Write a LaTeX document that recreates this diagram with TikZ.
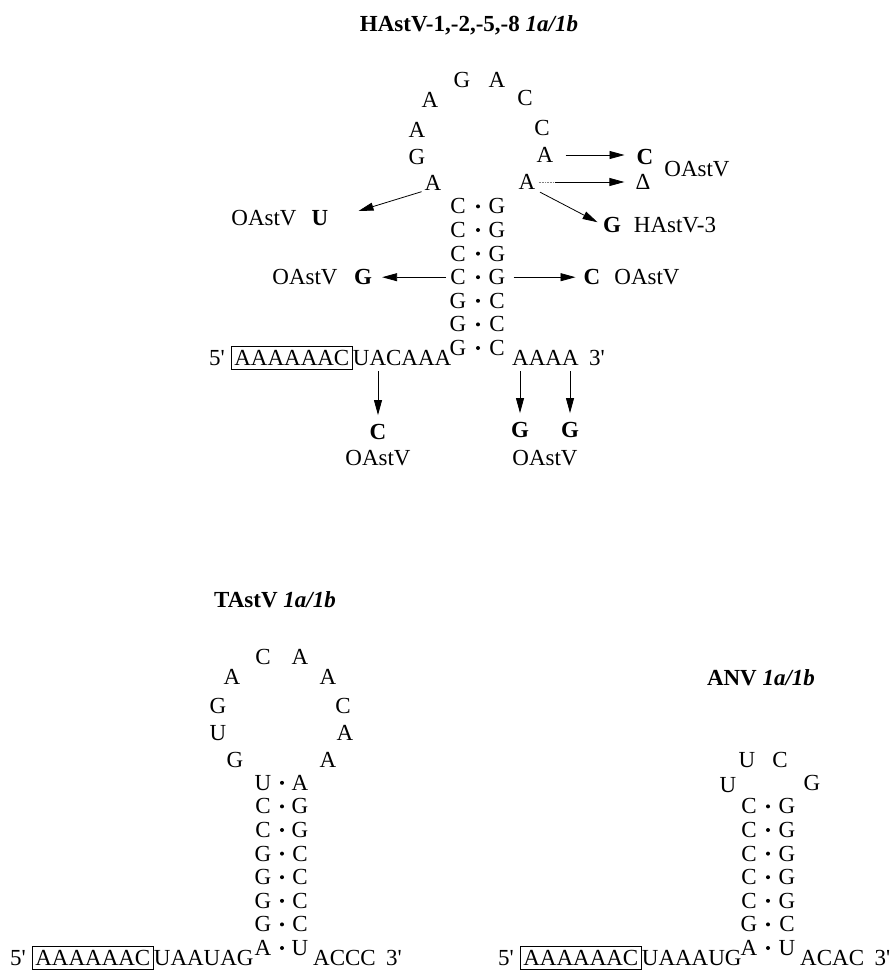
\documentclass[tikz,border=0pt]{standalone}
\usepackage{fontspec}
\setmainfont{Liberation Serif}
\usetikzlibrary{arrows.meta}
\newcommand\pr{\textquotesingle}
\begin{document}
\begin{tikzpicture}[x=1pt,y=-1pt,
  every node/.style={inner sep=0pt, font=\fontsize{23}{27}\selectfont},
  mut/.style={font=\fontsize{23}{27}\selectfont\bfseries},
  ttl/.style={font=\fontsize{23}{27}\selectfont\bfseries},
  bp/.style={circle, fill, inner sep=0pt, minimum size=4pt},
  seqbox/.style={draw, line width=0.7pt, inner xsep=3pt, inner ysep=4pt,
                 text height=15.2pt, text depth=0pt},
  arr/.style={-{Triangle[length=15pt,width=8pt]}, line width=0.8pt},
]
\useasboundingbox (0,0) rectangle (893,970);

% ---------------- titles
\node[ttl] (t1) at (469,25) {HAstV-1,-2,-5,-8 \textit{1a/1b}};
\node[ttl] (t2) at (275,600) {TAstV \textit{1a/1b}};
\node[ttl] (t3) at (761,678) {ANV \textit{1a/1b}};

% ================= HAstV stem-loop
% loop
\node (hl1) at (433,183) {A};
\node (hl2) at (417,157) {G};
\node (hl3) at (417,130) {A};
\node (hl4) at (430,100) {A};
\node (hl5) at (462,80) {G};
\node (hl6) at (497,80) {A};
\node (hl7) at (525,98) {C};
\node (hl8) at (542,128) {C};
\node (hl9) at (545,155) {A};
\node (hl10) at (527,182) {A};
% stem
\foreach \l/\r [count=\i] in {C/G,C/G,C/G,C/G,G/C,G/C,G/C} {
  \pgfmathsetmacro\yy{348-(7-\i)*23.6}
  \node (hsl\i) at (458,\yy) {\l};
  \node[bp] (hsd\i) at (478,\yy) {};
  \node (hsr\i) at (497,\yy) {\r};
}
% flanking strands
\node[seqbox, anchor=base west] (hbox) at (231,365.5) {AAAAAAC};
\node[anchor=base east] (h5) at ([xshift=-6pt]hbox.base west) {5\pr};
\node[anchor=base west] (hseqL) at (hbox.base east) {UACAAA};
\node[anchor=base west] (hseqR) at (512,365.5) {AAAA};
\node[anchor=base west] (h3) at ([xshift=10pt]hseqR.base east) {3\pr};
\coordinate (hcA) at (378,371);
\coordinate (hcR1) at (520,371);
\coordinate (hcR4) at (570,371);

% variants
\node[mut] (hmC1) at (645,157) {C};
\node (hmD) at (643,182) {Δ};
\node (hlo1) at (697,169) {OAstV};
\node[mut] (hmG1) at (612,225) {G};
\node (hlh3) at (675,225) {HAstV-3};
\node[mut] (hmU) at (320,218) {U};
\node (hlo2) at (264,218) {OAstV};
\node[mut] (hmG2) at (363,277) {G};
\node (hlo3) at (305,277) {OAstV};
\node[mut] (hmC2) at (592,277) {C};
\node (hlo4) at (647,277) {OAstV};
\node[mut] (hmC3) at (378,432) {C};
\node (hlo5) at (378,458) {OAstV};
\node[mut] (hmG3) at (520,430) {G};
\node[mut] (hmG4) at (570,430) {G};
\node (hlo6) at (545,458) {OAstV};

\draw[arr, shorten <=12pt, shorten >=12pt] (hl9.east) -- (hl9.east -| hmC1.west);
\draw[densely dotted, line width=0.6pt, gray] ([xshift=3pt]hl10.east) -- ([xshift=19pt]hl10.east);
\draw[arr, shorten >=11pt] ([xshift=19pt]hl10.east) -- (hl10.east -| hmD.west);
\draw[arr, shorten <=5pt, shorten >=6pt] (hl10.south east) -- (hmG1.west);
\draw[arr, shorten <=3pt] (hl1.south west) -- ([xshift=30pt,yshift=7pt]hmU.east);
\draw[arr, shorten <=4pt, shorten >=10pt] (hsl4.west) -- (hsl4.west -| hmG2.east);
\draw[arr, shorten <=8pt, shorten >=8pt] (hsr4.east) -- (hsr4.east -| hmC2.west);
\draw[arr, shorten >=9pt] (hcA) -- (hmC3.north);
\draw[arr, shorten >=9pt] (hcR1) -- (hmG3.north);
\draw[arr, shorten >=9pt] (hcR4) -- (hmG4.north);

% ================= TAstV stem-loop
\node (tl1) at (235,760) {G};
\node (tl2) at (218,733) {U};
\node (tl3) at (218,706) {G};
\node (tl4) at (232,677) {A};
\node (tl5) at (263,657) {C};
\node (tl6) at (300,657) {A};
\node (tl7) at (328,677) {A};
\node (tl8) at (343,706) {C};
\node (tl9) at (345,733) {A};
\node (tl10) at (328,760) {A};
\foreach \l/\r [count=\i] in {U/A,C/G,C/G,G/C,G/C,G/C,G/C,A/U} {
  \pgfmathsetmacro\yy{948-(8-\i)*23.6}
  \node (tsl\i) at (263,\yy) {\l};
  \node[bp] (tsd\i) at (282,\yy) {};
  \node (tsr\i) at (300,\yy) {\r};
}
\node[seqbox, anchor=base west] (tbox) at (32,965.5) {AAAAAAC};
\node[anchor=base east] (t5) at ([xshift=-6pt]tbox.base west) {5\pr};
\node[anchor=base west] (tseqL) at (tbox.base east) {UAAUAG};
\node[anchor=base west] (tseqR) at (313,965.5) {ACCC};
\node[anchor=base west] (t3p) at ([xshift=10pt]tseqR.base east) {3\pr};

% ================= ANV stem-loop
\node (al1) at (728,785) {U};
\node (al2) at (747,760) {U};
\node (al3) at (780,760) {C};
\node (al4) at (812,783) {G};
\foreach \l/\r [count=\i] in {C/G,C/G,C/G,C/G,C/G,G/C,A/U} {
  \pgfmathsetmacro\yy{948-(7-\i)*23.6}
  \node (asl\i) at (749,\yy) {\l};
  \node[bp] (asd\i) at (768,\yy) {};
  \node (asr\i) at (787,\yy) {\r};
}
\node[seqbox, anchor=base west] (abox) at (520,965.5) {AAAAAAC};
\node[anchor=base east] (a5) at ([xshift=-6pt]abox.base west) {5\pr};
\node[anchor=base west] (aseqL) at (abox.base east) {UAAAUG};
\node[anchor=base west] (aseqR) at (800,965.5) {ACAC};
\node[anchor=base west] (a3p) at ([xshift=10pt]aseqR.base east) {3\pr};
\end{tikzpicture}
\end{document}
